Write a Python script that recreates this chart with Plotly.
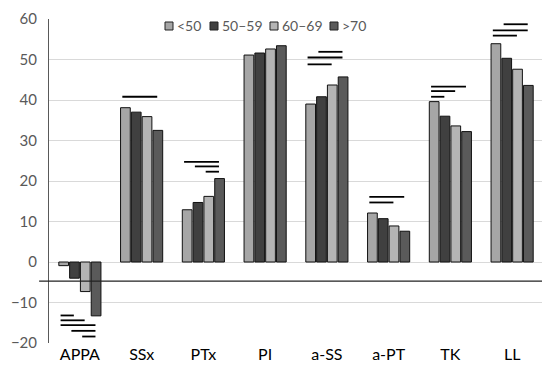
import plotly.graph_objects as go

categories = ["APPA", "SSx", "PTx", "PI", "a-SS", "a-PT", "TK", "LL"]
groups = ["<50", "50–59", "60–69", ">70"]
v_lt50 = [-0.9, 38.1, 12.9, 51.1, 39.0, 12.1, 39.6, 53.9]
v_50_59 = [-4.0, 37.0, 14.7, 51.6, 40.8, 10.7, 36.0, 50.3]
v_60_69 = [-7.3, 35.9, 16.2, 52.6, 43.7, 8.9, 33.6, 47.6]
v_gt70 = [-13.3, 32.5, 20.6, 53.4, 45.7, 7.6, 32.2, 43.6]
series = [v_lt50, v_50_59, v_60_69, v_gt70]
colors = ["#a6a6a6", "#404040", "#b4b4b4", "#5a5a5a"]

# significance brackets: (category index, from group, to group, y value)
sig_cat = [0, 0, 0, 0, 0, 1, 2, 2, 2, 4, 4, 4, 5, 5, 6, 6, 6, 7, 7, 7]
sig_from = [0, 0, 0, 1, 2, 0, 0, 1, 2, 1, 0, 0, 0, 0, 0, 0, 0, 1, 0, 0]
sig_to = [1, 2, 3, 3, 3, 3, 3, 3, 3, 3, 3, 2, 3, 2, 3, 2, 1, 3, 3, 2]
sig_y = [-13.2, -14.4, -15.6, -17.0, -18.4, 40.8, 24.7, 23.6, 22.3,
         51.9, 50.5, 48.8, 16.1, 14.7, 43.3, 42.2, 40.8, 58.7, 57.2, 55.9]

reference_y = -4.7
yticks = [-20, -10, 0, 10, 20, 30, 40, 50, 60]
yticktext = ["\u221220", "\u221210", "0", "10", "20", "30", "40", "50", "60"]

FONT = "Lato, Carlito, sans-serif"
bargap = 0.3
fig = go.Figure()
xs = list(range(len(categories)))
for name, vals, col in zip(groups, series, colors):
    fig.add_trace(go.Bar(x=xs, y=vals, name=name, showlegend=False,
                         marker=dict(color=col, line=dict(color="#111111", width=1))))

slot = (1 - bargap) / len(groups)
def center(c, g):
    return c - (1 - bargap) / 2 + slot * (g + 0.5)

shapes = []
for c, a, b, y in zip(sig_cat, sig_from, sig_to, sig_y):
    shapes.append(dict(type="line", xref="x", yref="y", x0=center(c, a) - 0.05, x1=center(c, b) - 0.01,
                       y0=y, y1=y, line=dict(color="black", width=1.8)))
shapes.append(dict(type="line", xref="paper", yref="y", x0=-0.02, x1=1.015, y0=reference_y, y1=reference_y,
                   line=dict(color="#222222", width=1.3)))

# custom legend (paper pixel-based positions)
L, R, T, B = 41, 15, 11, 31
W, H = 550, 366
pw, ph = W - L - R, H - T - B
leg_px = [157, 202, 262, 322]
leg_py = 18
annotations = []
for name, col, px in zip(groups, colors, leg_px):
    x0 = (px - L) / pw
    x1 = (px + 8 - L) / pw
    y0 = 1 - (leg_py - 4 - T) / ph
    y1 = 1 - (leg_py + 4 - T) / ph
    shapes.append(dict(type="rect", xref="paper", yref="paper", x0=x0, x1=x1, y0=y1, y1=y0,
                       fillcolor=col, line=dict(color="#222222", width=1)))
    annotations.append(dict(xref="paper", yref="paper", x=(px + 10 - L) / pw, y=1 - (leg_py - T) / ph,
                            xanchor="left", yanchor="middle", text=name, showarrow=False,
                            font=dict(family=FONT, size=14, color="#595959")))

fig.update_layout(
    width=W, height=H,
    margin=dict(l=L, r=R, t=T, b=B),
    paper_bgcolor="white", plot_bgcolor="white",
    barmode="group", bargap=bargap, bargroupgap=0.1,
    font=dict(family=FONT, color="#595959"),
    showlegend=False,
    xaxis=dict(tickvals=xs, ticktext=categories, range=[-0.5, len(categories) - 0.5],
               showgrid=False, zeroline=False, showline=False, ticks="", automargin=False,
               tickfont=dict(size=16, color="black")),
    yaxis=dict(range=[-20, 60], tickvals=yticks, ticktext=yticktext, automargin=False,
               showgrid=True, gridcolor="#d9d9d9", gridwidth=1,
               zeroline=True, zerolinecolor="#d9d9d9", zerolinewidth=1,
               showline=True, linecolor="#595959", linewidth=1,
               ticks="", ticklabelstandoff=8, tickfont=dict(size=15, color="#595959")),
    shapes=shapes,
    annotations=annotations,
)

fig.write_html("out.html")
